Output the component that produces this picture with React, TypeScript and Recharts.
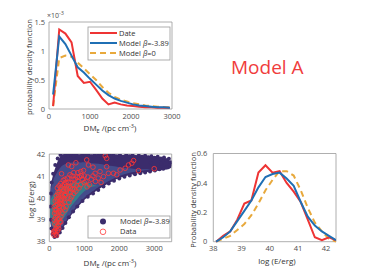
import {
  Area,
  ComposedChart,
  Line,
  LineChart,
  ReferenceArea,
  Scatter,
  XAxis,
  YAxis,
} from "recharts";

// ---- top-left: DM_E pdf (values in units of 1e-3)
const dmBins = [100, 250, 400, 550, 700, 850, 1000, 1150, 1300, 1450, 1600, 1750, 1900, 2050, 2200, 2350, 2500, 2650, 2800, 2950];
const dmDate = [0.05, 1.37, 1.3, 1.15, 0.57, 0.45, 0.47, 0.33, 0.18, 0.08, 0.11, 0.08, 0.06, 0.05, 0.04, 0.03, 0.03, 0.02, 0.02, 0.02];
const dmModel = [0.25, 1.25, 1.12, 0.92, 0.72, 0.63, 0.52, 0.42, 0.32, 0.24, 0.18, 0.14, 0.11, 0.08, 0.06, 0.05, 0.04, 0.03, 0.03, 0.02];
const dmModel0 = [0.05, 0.88, 0.92, 0.9, 0.8, 0.7, 0.6, 0.5, 0.38, 0.28, 0.21, 0.16, 0.13, 0.1, 0.08, 0.06, 0.05, 0.04, 0.03, 0.03];
const dmTicks = [0, 1000, 2000, 3000];
const pdfTicks = [0, 0.5, 1, 1.5];

// ---- bottom-right: log E pdf
const eBins = [38.1, 38.35, 38.6, 38.85, 39.1, 39.35, 39.6, 39.85, 40.1, 40.35, 40.6, 40.85, 41.1, 41.35, 41.6, 41.85, 42.1, 42.35];
const eData = [0, 0.04, 0.07, 0.15, 0.26, 0.28, 0.47, 0.52, 0.47, 0.48, 0.4, 0.34, 0.27, 0.15, 0.03, 0.01, 0.03, 0.01];
const eModel = [0, 0.03, 0.07, 0.14, 0.21, 0.28, 0.37, 0.44, 0.46, 0.47, 0.43, 0.38, 0.27, 0.17, 0.11, 0.07, 0.04, 0.01];
const eModel0 = [0, 0.02, 0.04, 0.08, 0.12, 0.18, 0.26, 0.35, 0.42, 0.48, 0.48, 0.45, 0.35, 0.23, 0.13, 0.07, 0.02, 0];
const eTicks = [38, 39, 40, 41, 42];
const ePdfTicks = [0, 0.2, 0.4, 0.6];

// ---- bottom-left: DM_E vs log E scatter
const envX = [30, 100, 200, 300, 400, 500, 600, 800, 1000, 1200, 1400, 1600, 1800, 2000, 2200, 2400, 2600, 2800, 3000, 3200, 3400, 3500];
const outerLo = [38.9, 38.3, 38.22, 38.38, 38.65, 38.9, 39.15, 39.55, 39.9, 40.15, 40.38, 40.58, 40.75, 40.9, 41.0, 41.08, 41.13, 41.18, 41.22, 41.26, 41.3, 41.4];
const outerHi = [40.5, 41.0, 41.5, 41.85, 41.95, 41.97, 41.98, 41.98, 41.98, 41.98, 41.97, 41.97, 41.96, 41.96, 41.95, 41.95, 41.93, 41.92, 41.9, 41.85, 41.75, 41.6];
const midLo = [38.95, 38.4, 38.32, 38.48, 38.75, 39.0, 39.25, 39.65, 40.0, 40.25, 40.48, 40.68, 40.85, 41.0, 41.1, 41.18, 41.22, 41.27, 41.3, 41.33, 41.35, 41.4];
const midHi = [40.3, 40.75, 41.1, 41.35, 41.5, 41.55, 41.6, 41.62, 41.62, 41.58, 41.55, 41.5, 41.45, 41.4, 41.36, 41.33, 41.3, 41.3, 41.3, 41.33, 41.35, 41.4];
const tealLo = [39.0, 38.7, 38.6, 38.8, 39.05, 39.3, 39.55, 39.95, 40.3, 40.5, 40.55, 40.7, 40.85, 41.0, 41.1, 41.18, 41.22, 41.27, 41.3, 41.33, 41.35, 41.4];
const tealHi = [39.9, 40.1, 40.3, 40.45, 40.55, 40.6, 40.65, 40.75, 40.75, 40.62, 40.55, 40.7, 40.85, 41.0, 41.1, 41.18, 41.22, 41.27, 41.3, 41.33, 41.35, 41.4];

const modelPts: [number, number][] = [
  [40, 39.0], [35, 39.6], [45, 40.2], [70, 40.7], [110, 41.1], [170, 41.5], [240, 41.8], [320, 41.95],
  [400, 41.9], [460, 41.98], [540, 41.93], [620, 41.98], [700, 41.92], [780, 41.97], [860, 41.9],
  [940, 41.98], [1030, 41.93], [1120, 41.98], [1210, 41.9], [1300, 41.97], [1390, 41.92], [1480, 41.98],
  [1570, 41.9], [1660, 41.96], [1750, 41.92], [1840, 41.98], [1930, 41.9], [2020, 41.95], [2110, 41.88],
  [2200, 41.96], [2290, 41.9], [2380, 41.95], [2470, 41.86], [2560, 41.93], [2650, 41.87], [2740, 41.92],
  [2830, 41.85], [2920, 41.9], [3010, 41.83], [3100, 41.88], [3190, 41.8], [3280, 41.84], [3350, 41.72],
  [3420, 41.78], [3470, 41.62], [3440, 41.5], [3360, 41.4], [3260, 41.33], [3150, 41.3], [3020, 41.25],
  [2880, 41.2], [2740, 41.16], [2600, 41.12], [2450, 41.08], [2300, 41.02], [2150, 40.96], [2000, 40.88],
  [1850, 40.78], [1700, 40.66], [1550, 40.52], [1400, 40.36], [1250, 40.2], [1100, 40.05], [950, 39.86],
  [800, 39.6], [680, 39.38], [560, 39.12], [460, 38.85], [380, 38.62], [300, 38.42], [220, 38.25],
  [150, 38.22], [90, 38.35], [60, 38.6], [900, 41.7], [1400, 41.75], [1900, 41.7], [2500, 41.7],
  [2900, 41.6], [3200, 41.55], [2200, 41.5], [1700, 41.55],
];

const dataPts: [number, number][] = [
  [130, 38.3], [170, 38.35], [210, 38.3], [150, 38.5], [190, 38.6], [240, 38.5], [160, 38.8], [200, 38.9],
  [260, 38.75], [300, 38.9], [180, 39.1], [230, 39.2], [280, 39.05], [330, 39.15], [150, 39.3], [210, 39.45],
  [260, 39.35], [310, 39.4], [360, 39.3], [190, 39.65], [240, 39.7], [290, 39.6], [340, 39.75], [400, 39.55],
  [220, 39.95], [270, 40.0], [320, 39.9], [380, 40.05], [430, 39.8], [460, 40.1], [250, 40.25], [300, 40.3],
  [350, 40.2], [410, 40.35], [480, 40.3], [520, 40.0], [560, 40.25], [600, 40.45], [380, 40.55], [440, 40.6],
  [500, 40.55], [550, 40.7], [620, 40.7], [660, 40.4], [700, 40.6], [740, 40.85], [780, 40.55], [820, 40.75],
  [860, 40.95], [900, 40.6], [950, 40.85], [1000, 41.0], [1050, 40.75], [1100, 40.95], [1150, 40.6],
  [1200, 40.85], [1250, 41.0], [1320, 40.75], [1400, 40.9], [1480, 40.7], [640, 40.05], [700, 40.2],
  [760, 40.3], [560, 39.8], [600, 39.95], [480, 39.6], [420, 39.95], [650, 41.0], [590, 41.05], [520, 40.9],
  [450, 40.85], [400, 40.8], [330, 40.65], [280, 40.55], [230, 40.45], [200, 40.1], [170, 39.85], [140, 39.6],
  [820, 41.15], [700, 41.15], [900, 41.2], [980, 41.25], [545, 41.5], [640, 41.43], [350, 41.1],
  [1120, 41.5], [1310, 41.12], [1450, 41.2], [1550, 40.97], [1640, 41.42], [1640, 41.8], [1690, 41.12],
  [1835, 41.12], [1930, 41.05], [2025, 41.27], [2170, 41.35], [2265, 41.5], [2360, 41.58], [2410, 41.7],
  [2550, 41.24], [3000, 41.33], [1070, 41.73], [1600, 41.92], [760, 41.6], [1250, 41.4],
  [120, 38.45], [180, 38.45], [220, 38.7], [140, 39.0], [250, 39.0], [200, 39.3], [280, 39.5], [170, 39.45],
  [230, 39.85], [300, 39.75], [350, 39.95], [260, 40.15], [330, 40.45], [390, 40.3], [440, 40.15],
  [510, 40.4], [470, 40.7], [560, 40.5], [610, 40.25], [680, 40.85], [720, 40.4], [800, 40.95], [850, 40.45],
  [920, 41.0], [1000, 40.7], [1080, 40.5], [380, 39.7], [450, 39.45], [330, 38.9], [270, 38.6],
];
const scatterXTicks = [0, 1000, 2000, 3000];
const scatterYTicks = [38, 39, 40, 41, 42];

const RED = "#ee3434";
const BLUE = "#1f6fb4";
const GOLD = "#e8a93c";
const PURPLE = "#3b2c6c";
const FONT = "'Open Sans', 'DejaVu Sans', sans-serif";
const tickStyle = { fill: "#4d4d4d", fontSize: 7.5, fontFamily: FONT };
const BOX = "#9a9a9a";

const dmRows = dmBins.map((x, i) => ({ x, date: dmDate[i], m: dmModel[i], m0: dmModel0[i] }));
const eRows = eBins.map((x, i) => ({ x, data: eData[i], m: eModel[i], m0: eModel0[i] }));
const envRows = envX.map((x, i) => ({
  x,
  outer: [outerLo[i], outerHi[i]],
  mid: [midLo[i], midHi[i]],
  teal: [tealLo[i], tealHi[i]],
}));
const modelRows = modelPts.map(([x, y]) => ({ x, y }));
const dataRows = dataPts.map(([x, y]) => ({ x, y }));

const ModelDot = (p: any) => <circle cx={p.cx} cy={p.cy} r={2} fill={PURPLE} />;
const DataRing = (p: any) => (
  <circle cx={p.cx} cy={p.cy} r={2.3} fill="none" stroke="#ff3434" strokeWidth={0.85} />
);

export default function App() {
  return (
    <div
      style={{
        position: "fixed",
        left: 0,
        top: 0,
        width: 374,
        height: 280,
        background: "#fff",
        fontFamily: FONT,
      }}
    >
      {/* DM pdf */}
      <div style={{ position: "absolute", left: 0, top: 0 }}>
        <LineChart width={190} height={140} data={dmRows} margin={{ top: 22, right: 18, left: 19, bottom: 17 }}>
          <XAxis
            dataKey="x"
            type="number"
            domain={[0, 3000]}
            ticks={dmTicks}
            height={14}
            tick={tickStyle}
            tickLine={false}
            axisLine={false}
            tickSize={3}
            tickMargin={2}
          />
          <YAxis
            type="number"
            domain={[0, 1.5]}
            ticks={pdfTicks}
            width={30}
            tick={tickStyle}
            tickLine={false}
            axisLine={false}
            tickSize={2}
            tickMargin={2}
          />
          <ReferenceArea x1={0} x2={3000} y1={0} y2={1.5} fill="none" stroke={BOX} strokeWidth={0.8} ifOverflow="visible" />
          <Line dataKey="m0" type="linear" stroke={GOLD} strokeWidth={2} strokeDasharray="6 4" dot={false} isAnimationActive={false} />
          <Line dataKey="date" type="linear" stroke={RED} strokeWidth={2} dot={false} isAnimationActive={false} />
          <Line dataKey="m" type="linear" stroke={BLUE} strokeWidth={2} dot={false} isAnimationActive={false} />
        </LineChart>
      </div>

      {/* scatter */}
      <div style={{ position: "absolute", left: 0, top: 140 }}>
        <ComposedChart width={190} height={140} data={envRows} margin={{ top: 14, right: 18.3, left: 19.3, bottom: 24.3 }}>
          <XAxis
            dataKey="x"
            type="number"
            domain={[0, 3500]}
            allowDataOverflow
            ticks={scatterXTicks}
            height={14}
            tick={tickStyle}
            tickLine={false}
            axisLine={false}
            tickSize={2}
            tickMargin={2}
          />
          <YAxis
            type="number"
            domain={[38, 42]}
            allowDataOverflow
            ticks={scatterYTicks}
            width={30}
            tick={tickStyle}
            tickLine={false}
            axisLine={false}
            tickSize={2}
            tickMargin={2}
          />
          <Area dataKey="outer" type="monotone" stroke="none" fill={PURPLE} fillOpacity={1} isAnimationActive={false} />
          <Area dataKey="mid" type="monotone" stroke="none" fill="#46508f" fillOpacity={0.9} isAnimationActive={false} />
          <Area dataKey="teal" type="monotone" stroke="none" fill="#2f948c" fillOpacity={0.7} isAnimationActive={false} />
          <Scatter data={modelRows} dataKey="y" shape={ModelDot} isAnimationActive={false} />
          <Scatter data={dataRows} dataKey="y" shape={DataRing} isAnimationActive={false} />
          <ReferenceArea x1={0} x2={3500} y1={38} y2={42} fill="none" stroke={BOX} strokeWidth={0.8} ifOverflow="visible" />
        </ComposedChart>
      </div>

      {/* log E pdf */}
      <div style={{ position: "absolute", left: 185, top: 140 }}>
        <LineChart width={189} height={140} data={eRows} margin={{ top: 13.5, right: 38, left: 6.3, bottom: 24.3 }}>
          <XAxis
            dataKey="x"
            type="number"
            domain={[38, 42.35]}
            allowDataOverflow
            ticks={eTicks}
            height={14}
            tick={tickStyle}
            tickLine={false}
            axisLine={false}
            tickSize={2}
            tickMargin={2}
          />
          <YAxis
            type="number"
            domain={[0, 0.6]}
            ticks={ePdfTicks}
            width={22}
            tick={tickStyle}
            tickLine={false}
            axisLine={false}
            tickSize={3}
            tickMargin={3}
          />
          <ReferenceArea x1={38} x2={42.35} y1={0} y2={0.6} fill="none" stroke={BOX} strokeWidth={0.8} ifOverflow="visible" />
          <Line dataKey="m0" type="linear" stroke={GOLD} strokeWidth={2} strokeDasharray="6 4" dot={false} isAnimationActive={false} />
          <Line dataKey="data" type="linear" stroke={RED} strokeWidth={2} dot={false} isAnimationActive={false} />
          <Line dataKey="m" type="linear" stroke={BLUE} strokeWidth={2} dot={false} isAnimationActive={false} />
        </LineChart>
      </div>

      {/* labels, legends */}
      <svg
        width={374}
        height={280}
        style={{ position: "absolute", left: 0, top: 0, pointerEvents: "none" }}
        fontFamily={FONT}
      >
        <text x={231} y={74} fontSize={19} fill="#f03c3c">Model A</text>

        <text x={47} y={18} fontSize={7} fill="#4d4d4d">
          ×10<tspan dy={-3.5} fontSize={5.5}>-3</tspan>
        </text>
        <text transform="translate(29,67) rotate(-90)" textAnchor="middle" dominantBaseline="central" fontSize={7.5} fill="#333">
          probability density function
        </text>
        <text x={110} y={131} textAnchor="middle" fontSize={8} fill="#333">
          DM<tspan fontSize={5.5} dy={2}>E</tspan>
          <tspan dy={-2}> /(pc cm</tspan>
          <tspan fontSize={5.5} dy={-3.5}>-3</tspan>
          <tspan dy={3.5}>)</tspan>
        </text>

        <rect x={88} y={27} width={82} height={33} fill="#fff" stroke={BOX} strokeWidth={0.8} />
        <line x1={90} x2={117} y1={33} y2={33} stroke={RED} strokeWidth={2} />
        <line x1={90} x2={117} y1={43} y2={43} stroke={BLUE} strokeWidth={2} />
        <line x1={90} x2={117} y1={53} y2={53} stroke={GOLD} strokeWidth={2} strokeDasharray="6 4" />
        <text x={119} y={35.5} fontSize={7.5} fill="#333">Date</text>
        <text x={119} y={45.5} fontSize={7.5} fill="#333">
          Model <tspan fontStyle="italic">β</tspan>=-3.89
        </text>
        <text x={119} y={55.5} fontSize={7.5} fill="#333">
          Model <tspan fontStyle="italic">β</tspan>=0
        </text>

        <text transform="translate(30.5,200) rotate(-90)" textAnchor="middle" dominantBaseline="central" fontSize={8} fill="#333">
          log (E/erg)
        </text>
        <text x={110} y={266} textAnchor="middle" fontSize={8} fill="#333">
          DM<tspan fontSize={5.5} dy={2}>E</tspan>
          <tspan dy={-2}> /(pc cm</tspan>
          <tspan fontSize={5.5} dy={-3.5}>-3</tspan>
          <tspan dy={3.5}>)</tspan>
        </text>
        <rect x={88} y={216} width={82} height={22} fill="#fff" stroke={BOX} strokeWidth={0.8} />
        <circle cx={103} cy={221.5} r={3} fill={PURPLE} />
        <circle cx={103} cy={231.8} r={2.8} fill="none" stroke="#ff3a3a" strokeWidth={0.8} />
        <text x={120} y={224} fontSize={7.5} fill="#333">
          Model <tspan fontStyle="italic">β</tspan>=-3.89
        </text>
        <text x={120} y={234.3} fontSize={7.5} fill="#333">Data</text>

        <text transform="translate(193,200) rotate(-90)" textAnchor="middle" dominantBaseline="central" fontSize={7.5} fill="#333">
          Probability density function
        </text>
        <text x={277} y={264} textAnchor="middle" fontSize={8} fill="#333">log (E/erg)</text>
      </svg>
    </div>
  );
}
